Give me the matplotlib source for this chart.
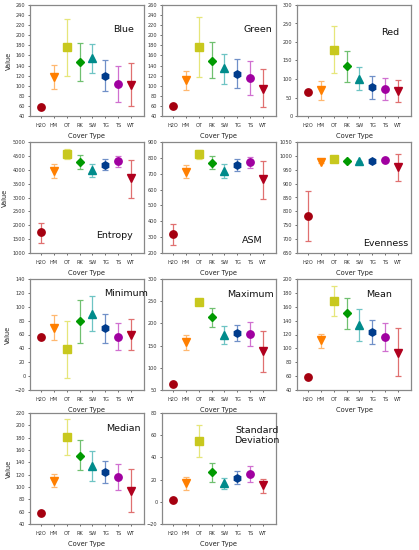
import matplotlib
matplotlib.use("Agg")
import matplotlib.pyplot as plt
import numpy as np

categories = ["H2O", "HM", "OT", "RK", "SW", "TG", "TS", "WT"]
markers = ["o", "v", "s", "D", "^", "h", "o", "v"]
marker_colors = ["#A50010", "#FF7F00", "#C8C81E", "#009A00", "#008B8B", "#003C8C", "#A000A0", "#B0001E"]
err_colors = ["#E07070", "#FFB870", "#E6E67A", "#70C070", "#6EC4C4", "#7090C8", "#D070D0", "#E07070"]

blue_mean = [57, 117, 176, 147, 155, 120, 103, 102]
blue_lo = [57, 93, 120, 110, 125, 89, 68, 60]
blue_hi = [57, 141, 232, 184, 183, 151, 139, 145]

green_mean = [59, 112, 177, 150, 135, 123, 115, 94]
green_lo = [59, 92, 117, 115, 104, 95, 81, 57]
green_hi = [59, 130, 236, 186, 163, 152, 149, 133]

red_mean = [65, 69, 179, 134, 100, 78, 72, 67]
red_lo = [65, 42, 115, 93, 70, 45, 42, 37]
red_hi = [65, 94, 243, 175, 132, 109, 102, 97]

entropy_mean = [1750, 3960, 4565, 4277, 3988, 4181, 4301, 3687]
entropy_lo = [1373, 3720, 4400, 4036, 3723, 3988, 4096, 3000]
entropy_hi = [2096, 4190, 4735, 4518, 4217, 4398, 4506, 4349]

asm_mean = [319, 713, 822, 768, 715, 755, 772, 665]
asm_lo = [248, 671, 793, 728, 671, 720, 739, 543]
asm_hi = [385, 753, 852, 810, 759, 793, 808, 783]

even_mean = [782, 978, 989, 983, 980, 983, 985, 959]
even_lo = [694, 975, 986, 980, 977, 980, 982, 909]
even_hi = [872, 981, 992, 986, 983, 986, 988, 1008]

min_mean = [56, 70, 39, 79, 90, 69, 57, 60]
min_lo = [56, 52, -3, 48, 65, 48, 37, 37]
min_hi = [56, 88, 80, 110, 115, 90, 76, 83]

max_mean = [64, 157, 249, 214, 175, 179, 177, 138]
max_lo = [64, 139, 246, 192, 153, 160, 150, 91]
max_hi = [64, 175, 252, 234, 195, 197, 203, 183]

mean_mean = [59, 112, 169, 151, 134, 124, 116, 94]
mean_lo = [59, 101, 147, 128, 111, 107, 96, 60]
mean_hi = [59, 121, 190, 173, 157, 141, 137, 130]

median_mean = [58, 110, 181, 151, 134, 124, 117, 94]
median_lo = [58, 100, 152, 127, 110, 106, 95, 59]
median_hi = [58, 121, 210, 176, 158, 142, 138, 129]

sd_mean = [1.8, 16.8, 54.4, 26.5, 17.0, 21.8, 25.3, 14.7]
sd_lo = [1.8, 11.0, 40.3, 18.2, 11.8, 15.9, 17.6, 8.2]
sd_hi = [1.8, 22.0, 68.8, 34.7, 21.5, 27.6, 32.4, 20.9]

panels = [
    ("Blue", blue_mean, blue_lo, blue_hi, (40, 260), 20, (0.82, 0.78), True),
    ("Green", green_mean, green_lo, green_hi, (40, 260), 20, (0.84, 0.78), False),
    ("Red", red_mean, red_lo, red_hi, (0, 300), 50, (0.82, 0.75), False),
    ("Entropy", entropy_mean, entropy_lo, entropy_hi, (1000, 5000), 500, (0.74, 0.155), True),
    ("ASM", asm_mean, asm_lo, asm_hi, (200, 900), 100, (0.79, 0.11), False),
    ("Evenness", even_mean, even_lo, even_hi, (650, 1050), 50, (0.78, 0.09), False),
    ("Minimum", min_mean, min_lo, min_hi, (-20, 140), 20, (0.84, 0.87), True),
    ("Maximum", max_mean, max_lo, max_hi, (50, 300), 50, (0.78, 0.86), False),
    ("Mean", mean_mean, mean_lo, mean_hi, (40, 200), 20, (0.72, 0.86), False),
    ("Median", median_mean, median_lo, median_hi, (40, 220), 20, (0.82, 0.86), True),
    ("Standard\nDeviation", sd_mean, sd_lo, sd_hi, (-20, 80), 20, (0.83, 0.80), False),
]

W, H = 419, 550
fig = plt.figure(figsize=(W / 100, H / 100), dpi=100)
col_left = [30, 162, 297]
col_w = 114
row_top = [5, 142, 279, 413]
row_h = 111

x = np.arange(1, len(categories) + 1)
for i, (name, mean, lo, hi, ylim, step, tpos, ylab) in enumerate(panels):
    r, c = divmod(i, 3)
    ax = fig.add_axes([col_left[c] / W, 1 - (row_top[r] + row_h) / H, col_w / W, row_h / H])
    for j in range(len(categories)):
        m = mean[j]
        yerr = [[m - lo[j]], [hi[j] - m]]
        ax.errorbar([x[j]], [m], yerr=yerr, fmt="none", ecolor=err_colors[j],
                    elinewidth=0.9, capsize=2.2, capthick=0.9, zorder=2)
        ax.plot([x[j]], [m], marker=markers[j], color=marker_colors[j],
                markersize=5.3 if markers[j] != "D" else 4.4, linestyle="none", zorder=3)
    ax.set_xlim(0.15, 9.0)
    ax.set_ylim(*ylim)
    ax.set_yticks(np.arange(ylim[0], ylim[1] + step / 2, step))
    ax.set_xticks(x)
    ax.set_xticklabels(categories)
    ax.tick_params(labelsize=3.6, length=1.8, width=0.5, pad=1.5, colors="#333333")
    ax.tick_params(axis="x", pad=3.5, length=1.2)
    for s in ax.spines.values():
        s.set_color("#888888")
        s.set_linewidth(0.9)
    ax.set_xlabel("Cover Type", fontsize=4.8, labelpad=4, color="#222222")
    if ylab:
        ax.set_ylabel("Value", fontsize=4.8, labelpad=3, color="#222222")
    ax.text(tpos[0], tpos[1], name, transform=ax.transAxes, ha="center", va="center",
            fontsize=6.8, color="#111111", linespacing=1.1)

fig.savefig("out.png", dpi=100)
